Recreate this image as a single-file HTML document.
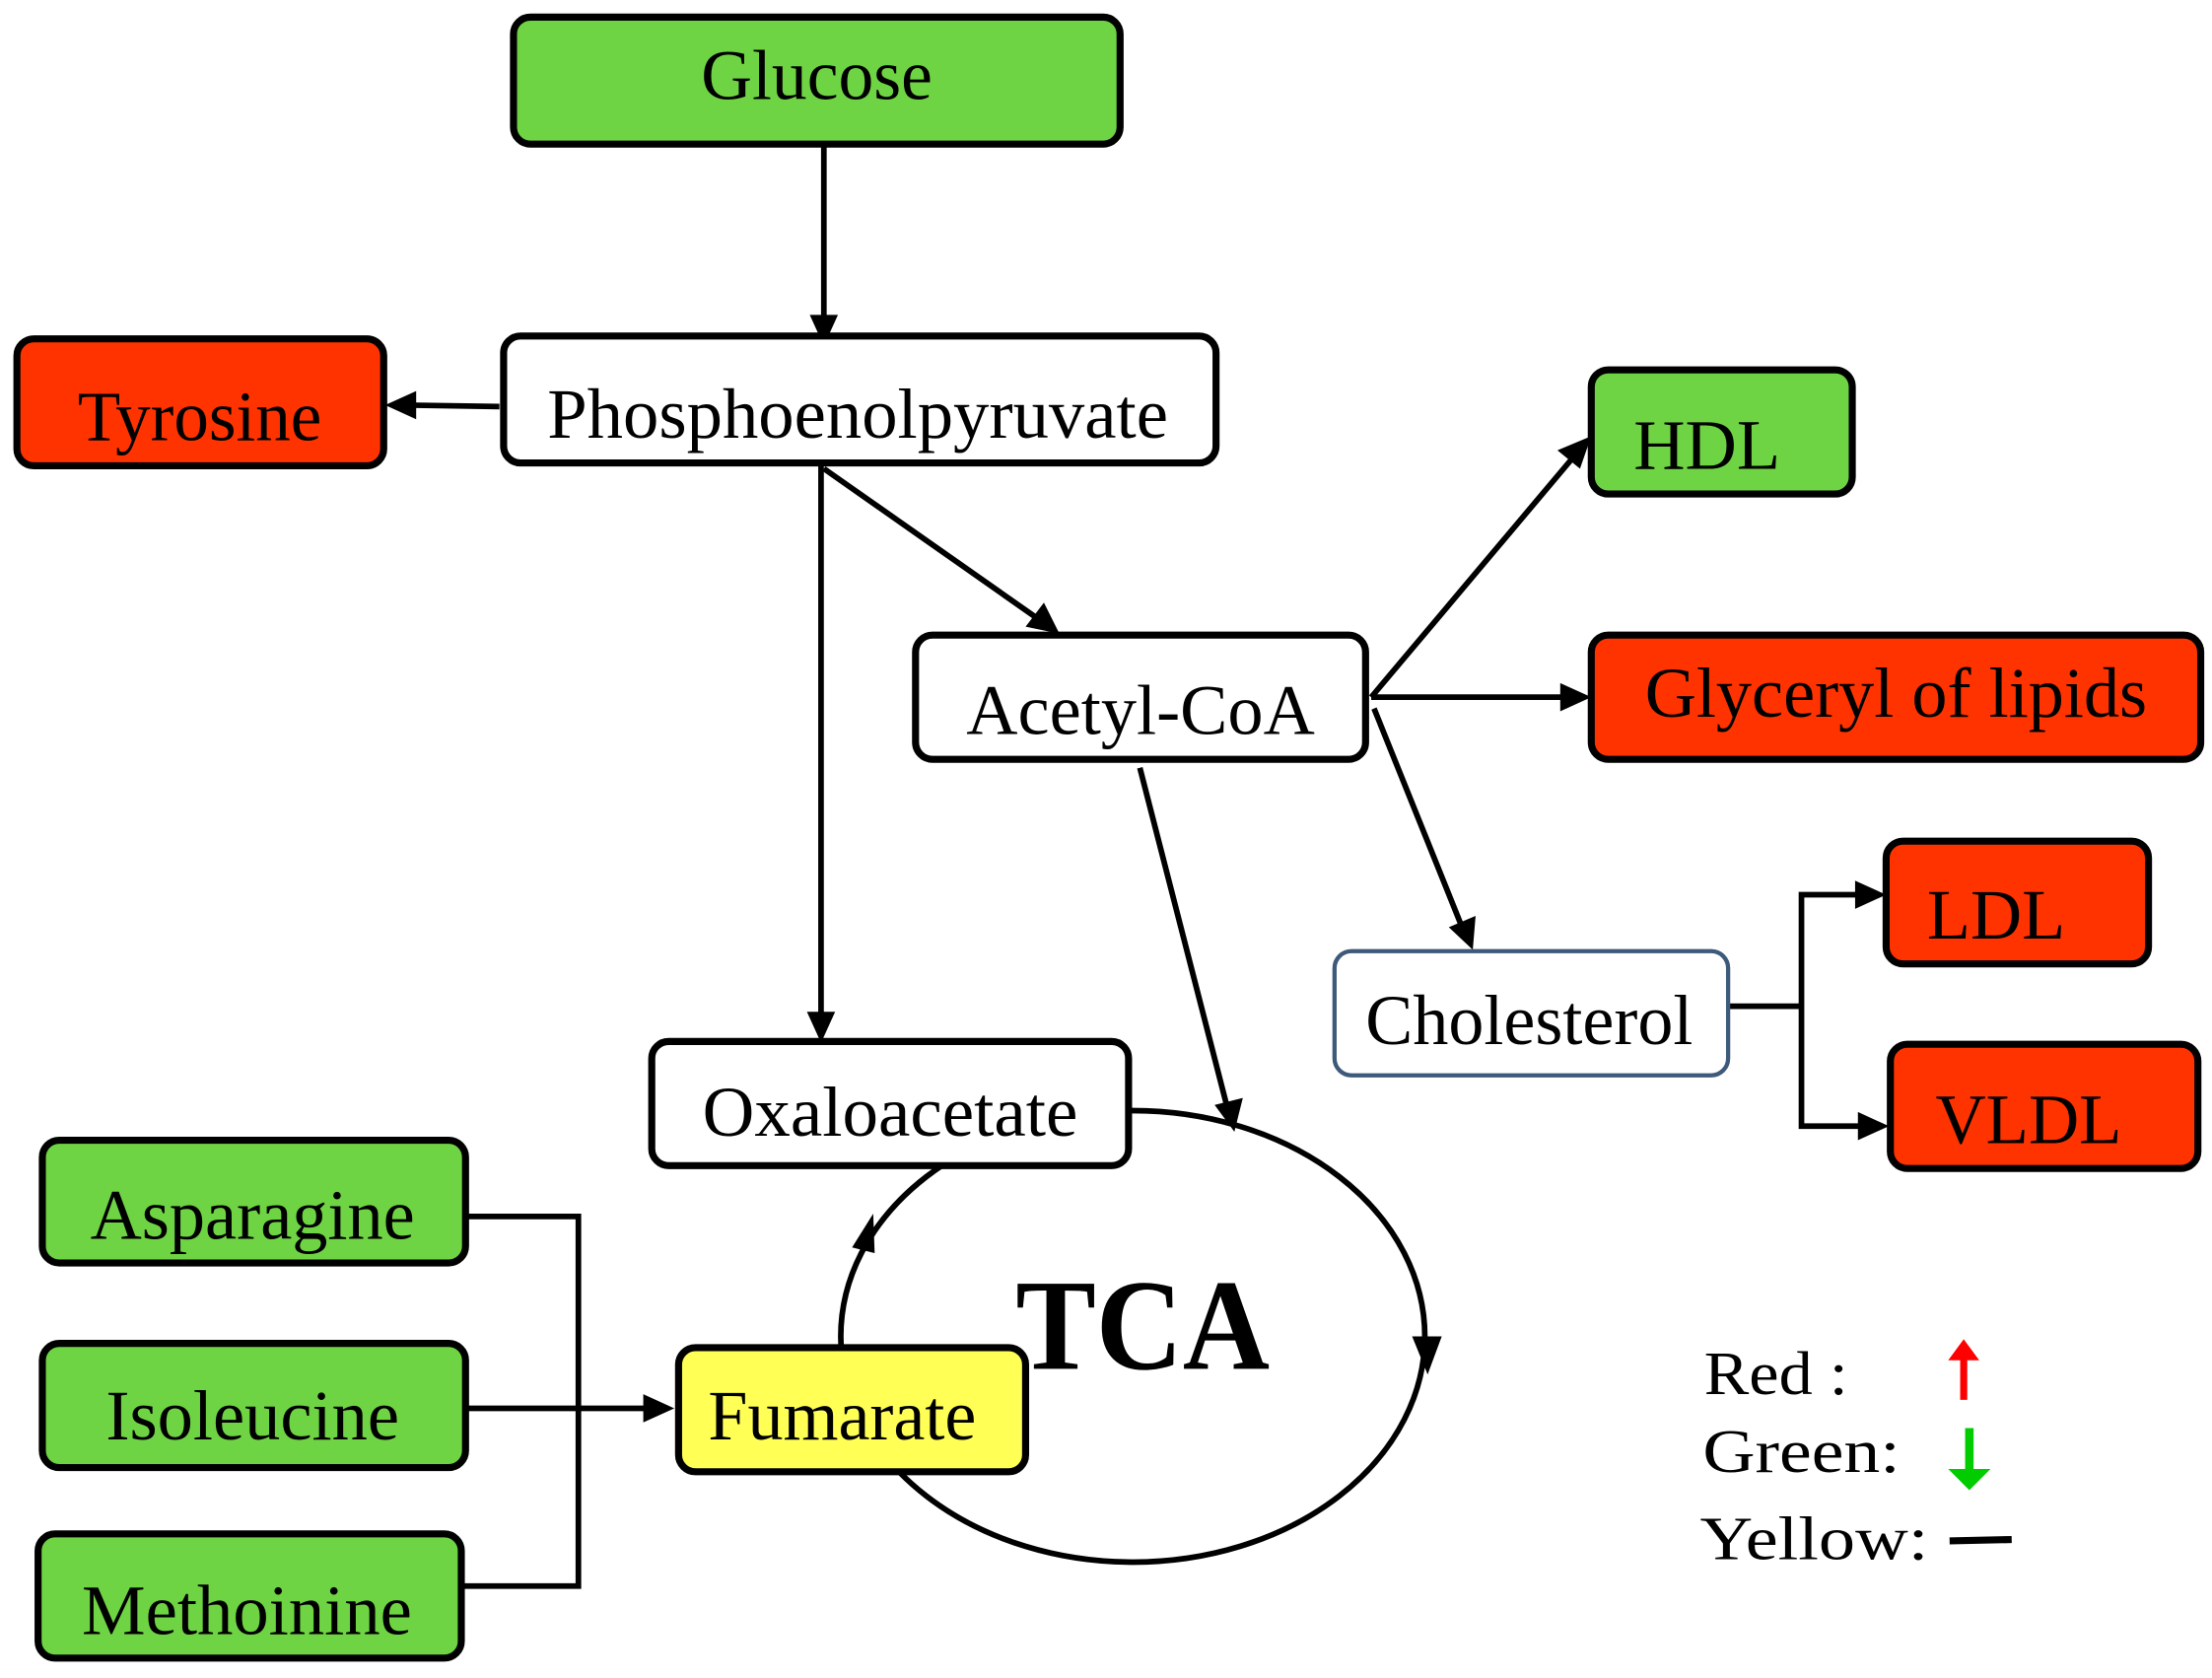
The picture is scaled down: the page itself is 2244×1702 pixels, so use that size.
<!DOCTYPE html>
<html><head><meta charset="utf-8"><style>
html,body{margin:0;padding:0;background:#fff;}
svg{display:block;}
text{font-family:"Liberation Serif",serif;fill:#000;}
</style></head><body>
<svg width="2244" height="1702" viewBox="0 0 1568 1189" xmlns="http://www.w3.org/2000/svg">
<rect width="1568" height="1189" fill="#fff"/>
<g stroke="#000" stroke-width="4" fill="none">
<ellipse cx="803" cy="947" rx="207" ry="160"/>
<line x1="584" y1="95" x2="584" y2="230"/>
<line x1="354" y1="288" x2="290" y2="287"/>
<line x1="582" y1="330" x2="582" y2="722"/>
<line x1="584" y1="332" x2="738" y2="440"/>
<line x1="972" y1="494" x2="1116" y2="323"/>
<line x1="972" y1="494" x2="1112" y2="494"/>
<line x1="974" y1="502" x2="1036" y2="656"/>
<line x1="808" y1="544" x2="870" y2="785"/>
<polyline points="1226,713 1277,713"/>
<polyline points="1322,634 1277,634 1277,798 1324,798"/>
<polyline points="330,862 410,862 410,1124 327,1124"/>
<line x1="330" y1="998" x2="462" y2="998"/>
</g>
<g fill="#000">
<polygon points="584,245 574,223 594,223"/>
<polygon points="273,287 295,277 295,297"/>
<polygon points="582,739 572,717 592,717"/>
<polygon points="751,449 727,444 740,427"/>
<polygon points="1128,309 1120,332 1104,319"/>
<polygon points="1128,494 1106,484 1106,504"/>
<polygon points="1044,673 1027,657 1046,649"/>
<polygon points="875,802 861,783 881,778"/>
<polygon points="1337,634 1315,624 1315,644"/>
<polygon points="1339,798 1317,788 1317,808"/>
<polygon points="478,998 456,988 456,1008"/>
<polygon points="1012,974 1001,947 1022,947"/>
<polygon points="619,860 604,884 620,888"/>
</g>
<g stroke="#000" stroke-width="5">
<rect x="364" y="12" width="430" height="90" rx="12" fill="#6fd444"/>
<rect x="357" y="238" width="505" height="90" rx="12" fill="#fff"/>
<rect x="12" y="240" width="260" height="90" rx="12" fill="#ff3300"/>
<rect x="1128" y="262" width="185" height="88" rx="12" fill="#6fd444"/>
<rect x="649" y="450" width="319" height="88" rx="12" fill="#fff"/>
<rect x="1128" y="450" width="432" height="88" rx="12" fill="#ff3300"/>
<rect x="1337" y="596" width="186" height="87" rx="12" fill="#ff3300"/>
<rect x="1340" y="740" width="218" height="88" rx="12" fill="#ff3300"/>
<rect x="462" y="738" width="338" height="88" rx="12" fill="#fff"/>
<rect x="30" y="808" width="300" height="87" rx="12" fill="#6fd444"/>
<rect x="30" y="952" width="300" height="88" rx="12" fill="#6fd444"/>
<rect x="27" y="1087" width="300" height="88" rx="12" fill="#6fd444"/>
<rect x="481" y="955" width="246" height="88" rx="12" fill="#ffff55"/>
</g>
<rect x="946" y="674" width="279" height="88" rx="12" fill="#fff" stroke="#3d5a7a" stroke-width="3"/>
<g font-size="50">
<text x="497" y="70" textLength="164" lengthAdjust="spacingAndGlyphs">Glucose</text>
<text x="388" y="310" textLength="440" lengthAdjust="spacingAndGlyphs">Phosphoenolpyruvate</text>
<text x="55" y="312" textLength="173" lengthAdjust="spacingAndGlyphs">Tyrosine</text>
<text x="1158" y="332" textLength="104" lengthAdjust="spacingAndGlyphs">HDL</text>
<text x="685" y="520" textLength="247" lengthAdjust="spacingAndGlyphs">Acetyl-CoA</text>
<text x="1166" y="508" textLength="356" lengthAdjust="spacingAndGlyphs">Glyceryl of lipids</text>
<text x="1366" y="665" textLength="98" lengthAdjust="spacingAndGlyphs">LDL</text>
<text x="968" y="740" textLength="232" lengthAdjust="spacingAndGlyphs">Cholesterol</text>
<text x="1372" y="810" textLength="132" lengthAdjust="spacingAndGlyphs">VLDL</text>
<text x="498" y="805" textLength="266" lengthAdjust="spacingAndGlyphs">Oxaloacetate</text>
<text x="64" y="878" textLength="230" lengthAdjust="spacingAndGlyphs">Asparagine</text>
<text x="75" y="1020" textLength="208" lengthAdjust="spacingAndGlyphs">Isoleucine</text>
<text x="58" y="1158" textLength="234" lengthAdjust="spacingAndGlyphs">Methoinine</text>
<text x="502" y="1020" textLength="190" lengthAdjust="spacingAndGlyphs">Fumarate</text>
</g>
<text x="720" y="970" font-size="92" font-weight="bold" textLength="180" lengthAdjust="spacingAndGlyphs">TCA</text>
<g font-size="44">
<text x="1208" y="988" textLength="102" lengthAdjust="spacingAndGlyphs">Red :</text>
<text x="1207" y="1043" textLength="140" lengthAdjust="spacingAndGlyphs">Green:</text>
<text x="1205" y="1105" textLength="162" lengthAdjust="spacingAndGlyphs">Yellow:</text>
</g>
<line x1="1392" y1="992" x2="1392" y2="960" stroke="#ff0000" stroke-width="5"/>
<polygon points="1392,949 1381,964 1403,964" fill="#ff0000"/>
<line x1="1396" y1="1012" x2="1396" y2="1042" stroke="#00cc00" stroke-width="6"/>
<polygon points="1396,1056 1381,1041 1411,1041" fill="#00cc00"/>
<line x1="1382" y1="1092" x2="1426" y2="1091" stroke="#000" stroke-width="5"/>
</svg>
</body></html>
